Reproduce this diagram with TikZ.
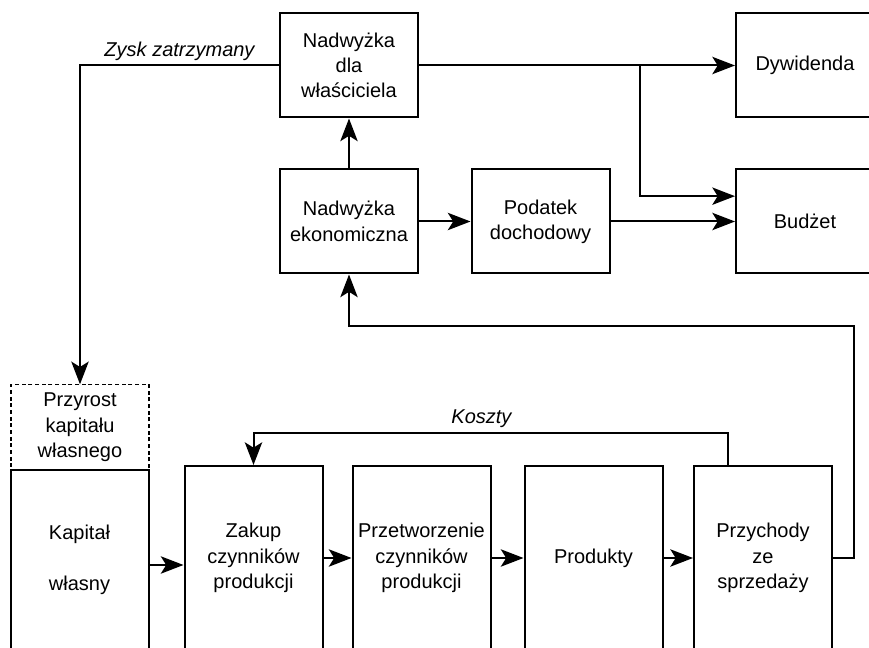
\documentclass[tikz,border=0pt]{standalone}
\usepackage{fontspec}
\setmainfont{Liberation Sans}
\usetikzlibrary{positioning,arrows.meta}

\begin{document}
\begin{tikzpicture}[x=0.75pt, y=-0.75pt,
	tekst/.style={font=\fontsize{15}{19}\selectfont},
	blok/.style={tekst, draw, line width=1.5pt, minimum width=103.5pt, align=center, inner sep=2pt},
	gora/.style={blok, minimum height=78pt},
	dol/.style={blok, minimum height=138pt},
	przerywany/.style={tekst, draw, dash pattern=on 3pt off 2pt, line width=0.8pt, minimum width=103.5pt, minimum height=64pt, align=center, inner sep=0pt},
	linia/.style={line width=1.5pt},
	strzalka/.style={linia, -{Stealth[length=17pt 0 0, width=13pt 0 0, inset=4pt 0]}},
	opis/.style={tekst, font=\fontsize{15}{19}\selectfont\itshape, inner sep=3pt}]
					\useasboundingbox (0,0) rectangle (869,648);
					\clip (0,0) rectangle (869,648);
					
					\node[gora] (wlasciciel) at (349,65.5) {Nadwyżka\\dla\\właściciela};
					\node[gora] (dywidenda) at (805,65.5) {Dywidenda};
					\node[gora] (ekonomiczna) at (349,221.5) {Nadwyżka\\ekonomiczna};
					\node[gora] (podatek) at (540.5,221.5) {Podatek\\dochodowy};
					\node[gora] (budzet) at (805,221.5) {Budżet};
					
					\node[przerywany] (przyrost) at (80,427.5) {Przyrost\\kapitału\\własnego};
					\node[blok, minimum height=135pt] (kapital) at (79.5,560) {Kapitał\\[19pt]własny};
					\node[dol] (zakup) at (253.5,558) {Zakup\\czynników\\produkcji};
					\node[dol] (przetworzenie) at (421.5,558) {Przetworzenie\\czynników\\produkcji};
					\node[dol] (produkty) at (593.5,558) {Produkty};
					\node[dol] (przychody) at (763,558) {Przychody\\ze\\sprzedaży};
					
					\coordinate (rozgalezienie) at (640,65.5);
					\coordinate (zwrot) at (854,326);
					\coordinate (koszty) at (253.5,433);
					
					\draw[strzalka] (wlasciciel) -- (dywidenda);
					\draw[strzalka] (rozgalezienie) |- ([yshift=19pt]budzet.west);
					\draw[strzalka] (ekonomiczna) -- (podatek);
					\draw[strzalka] (podatek) -- (budzet);
					\draw[strzalka] (ekonomiczna) -- (wlasciciel);
					\draw[strzalka] (wlasciciel.west) -| node[opis, pos=0.25, above] {Zysk zatrzymany} (przyrost.north);
					
					\draw[strzalka] ([yshift=-3.75pt]kapital.east) -- ([yshift=-3.75pt]kapital.east -| zakup.west);
					\draw[strzalka] (zakup) -- (przetworzenie);
					\draw[strzalka] (przetworzenie) -- (produkty);
					\draw[strzalka] (produkty) -- (przychody);
					
					\draw[strzalka] (przychody.east) -| (zwrot) -| (ekonomiczna.south);
					\draw[strzalka] ([xshift=-26pt]przychody.north) |- node[opis, pos=0.76, above] {Koszty} (koszty) -- (zakup.north);
				
	\end{tikzpicture}
\end{document}
